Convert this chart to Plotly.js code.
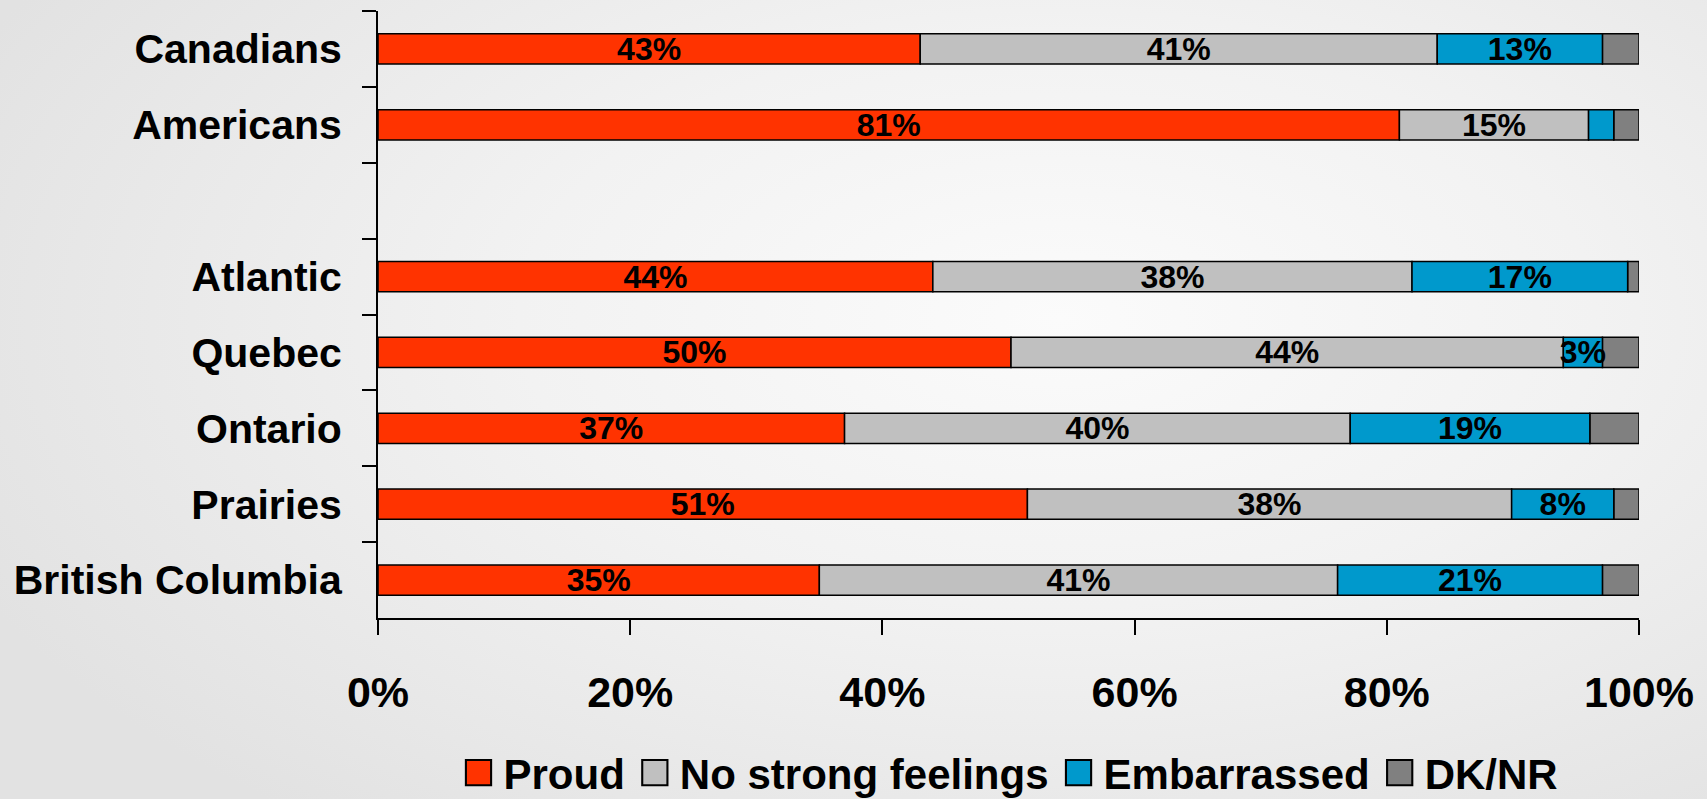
<!DOCTYPE html>
<html>
<head>
<meta charset="utf-8">
<script src="https://cdn.plot.ly/plotly-3.0.1.min.js"></script>
<style>
  html, body { margin: 0; padding: 0; }
  body {
    width: 1707px; height: 799px; overflow: hidden;
    background: radial-gradient(ellipse 70% 80% at 62% 40%, #fbfbfb 0%, #f2f2f2 45%, #e2e2e2 100%);
  }
  #chart { width: 1707px; height: 799px; }
</style>
</head>
<body>
<div id="chart"></div>
<script>
// rows from top to bottom, blank row separates national and regional results
var groups = ['Canadians', 'Americans', ' ', 'Atlantic', 'Quebec', 'Ontario', 'Prairies', 'British Columbia'];

var proud = [43, 81, null, 44, 50.2, 37, 51.5, 35];
var noFeelings = [41, 15, null, 38, 43.8, 40.1, 38.4, 41.1];
var embarrassed = [13.1, 2, null, 17.1, 3.1, 19, 8.1, 21];
var dkNr = [2.9, 2, null, 0.9, 2.9, 3.9, 2, 2.9];

var proudLabels = ['43%', '81%', '', '44%', '50%', '37%', '51%', '35%'];
var noFeelingsLabels = ['41%', '15%', '', '38%', '44%', '40%', '38%', '41%'];
var embarrassedLabels = ['13%', '', '', '17%', '3%', '19%', '8%', '21%'];
var dkNrLabels = ['', '', '', '', '', '', '', ''];

var seriesNames = ['Proud', 'No strong feelings', 'Embarrassed', 'DK/NR'];
var seriesColors = ['#ff3300', '#c0c0c0', '#0099cc', '#808080'];

var fontFamily = 'Liberation Sans, Arial, sans-serif';

// running totals so each segment starts where the previous one ends
function addUp(a, b) {
    return a.map(function(v, i) { return v === null ? null : v + b[i]; });
}
var zeros = proud.map(function(v) { return v === null ? null : 0; });
var baseNo = addUp(zeros, proud);
var baseEmb = addUp(baseNo, noFeelings);
var baseDk = addUp(baseEmb, embarrassed);

function makeTrace(name, values, base, labels, color, rank) {
    return {
        type: 'bar',
        orientation: 'h',
        name: name,
        y: groups,
        x: values,
        base: base,
        text: labels,
        textposition: 'inside',
        insidetextanchor: 'middle',
        constraintext: 'none',
        textfont: { family: fontFamily, size: 32, color: '#000', weight: 'bold' },
        marker: { color: color, line: { color: '#000', width: 1.5 } },
        legendrank: rank,
        hoverinfo: 'name+x'
    };
}

// DK/NR drawn before Embarrassed so the small "3%" label is not covered
var data = [
    makeTrace(seriesNames[0], proud, zeros, proudLabels, seriesColors[0], 1),
    makeTrace(seriesNames[1], noFeelings, baseNo, noFeelingsLabels, seriesColors[1], 2),
    makeTrace(seriesNames[3], dkNr, baseDk, dkNrLabels, seriesColors[3], 4),
    makeTrace(seriesNames[2], embarrassed, baseEmb, embarrassedLabels, seriesColors[2], 3)
];

var layout = {
    width: 1707,
    height: 799,
    barmode: 'overlay',
    bargap: 0.6,
    margin: { l: 378, r: 68, t: 11, b: 181, autoexpand: false },
    paper_bgcolor: 'rgba(0,0,0,0)',
    plot_bgcolor: 'rgba(0,0,0,0)',
    font: { family: fontFamily, color: '#000', weight: 'bold' },
    xaxis: {
        range: [0, 100],
        dtick: 20,
        ticksuffix: '%',
        showgrid: false,
        zeroline: false,
        showline: true,
        linecolor: '#000',
        linewidth: 2,
        ticks: 'outside',
        ticklen: 15,
        tickwidth: 2,
        tickcolor: '#000',
        ticklabelstandoff: 20,
        tickfont: { family: fontFamily, size: 43, color: '#000', weight: 'bold' },
        fixedrange: true
    },
    yaxis: {
        type: 'category',
        categoryorder: 'array',
        categoryarray: groups,
        autorange: 'reversed',
        showgrid: false,
        zeroline: false,
        showline: true,
        linecolor: '#000',
        linewidth: 2,
        ticks: 'outside',
        tickson: 'boundaries',
        ticklen: 14,
        tickwidth: 2,
        tickcolor: '#000',
        ticklabelstandoff: 26,
        tickfont: { family: fontFamily, size: 41, color: '#000', weight: 'bold' },
        fixedrange: true
    },
    showlegend: true,
    legend: {
        orientation: 'h',
        traceorder: 'normal',
        x: 0.5,
        xanchor: 'center',
        y: -0.255,
        yanchor: 'middle',
        itemwidth: 40,
        font: { family: fontFamily, size: 42, color: '#000', weight: 'bold' },
        bgcolor: 'rgba(0,0,0,0)'
    }
};

Plotly.newPlot('chart', data, layout, { displayModeBar: false, staticPlot: true }).then(function(gd) {
    // enlarge the legend keys to match the big square swatches
    gd.querySelectorAll('.legendpoints path').forEach(function(p) {
        var t = p.getAttribute('transform') || '';
        p.setAttribute('transform', t + ' scale(2.1)');
        p.style.strokeWidth = '1px';
    });
});
</script>
</body>
</html>
